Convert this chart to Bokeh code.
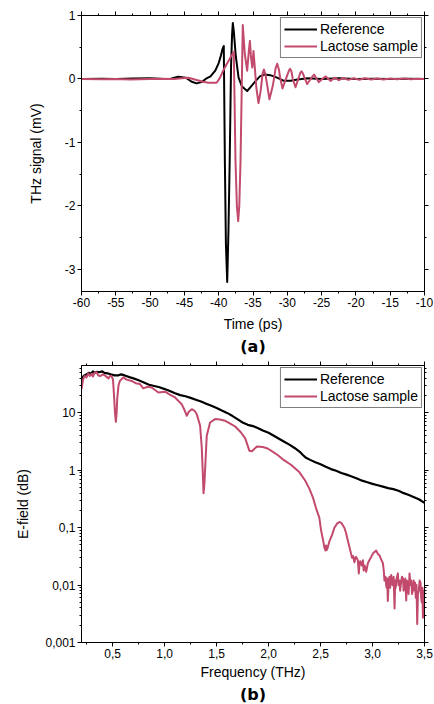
from bokeh.plotting import figure
from bokeh.layouts import column
from bokeh.models import (FixedTicker, LinearAxis, LogAxis, Legend, LegendItem,
                          Title, CustomJSTickFormatter)
from bokeh.embed import file_html
from bokeh.resources import INLINE

# ---------------- data: (a) time domain ----------------
ref_t = [-60, -57, -55, -52.5, -50, -48, -47, -45.9, -44.8, -44.0, -43.24, -42.5, -41.9,
         -41.2, -40.5, -40.0, -39.7, -39.45, -39.26, -39.1, -38.95, -38.76, -38.58, -38.4,
         -38.2, -38.05, -37.94, -37.8, -37.5, -37.1, -36.6, -35.85, -35.3, -34.6, -34.0,
         -33.3, -32.5, -31.5, -30.5, -29.5, -28.5, -27.0, -25.0, -22.5, -20.0, -17.5,
         -15.0, -12.5, -10.0]
ref_v = [0.0, 0.005, 0.0, 0.008, 0.01, 0.0, 0.005, 0.035, 0.02, -0.04, -0.07, -0.05, 0.0,
         0.04, 0.13, 0.25, 0.36, 0.47, 0.52, -1.3, -2.6, -3.2, -2.4, -1.3,
         0.2, 0.7, 0.88, 0.75, 0.35, 0.02, -0.12, -0.19, -0.12, -0.03, 0.04,
         0.07, 0.06, 0.02, -0.03, -0.03, -0.01, 0.01, 0.0, 0.01, 0.0, 0.005,
         0.0, 0.004, 0.0]

lac_t = [-60, -57, -55, -52.9, -50, -48.5, -46.5, -45.4, -44.4, -43.1, -42.3, -41.5, -40.3,
         -39.8, -39.26, -38.8, -38.28, -37.8, -37.55, -37.35, -37.16, -37.0, -36.82, -36.65,
         -36.49, -36.2, -35.85, -35.6, -35.45, -35.3, -35.1, -34.93, -34.75, -34.5, -34.2,
         -33.9, -33.6, -33.42, -33.2, -33.0, -32.6, -32.1, -31.7, -31.47, -31.2, -31.1,
         -30.7, -30.2, -29.8, -29.6, -29.4, -29.2, -28.8, -28.4, -28.1, -27.93, -27.7,
         -27.5, -27.1, -26.6, -26.1, -25.7, -25.4, -24.9, -24.4, -24.0, -23.7, -23.1,
         -22.5, -21.8, -21.1, -20.3, -19.5, -18.7, -17.8, -16.9, -16.0, -15.0, -14.0,
         -13.0, -12.0, -11.0, -10.0]
lac_v = [0.0, -0.005, 0.0, -0.01, 0.0, 0.005, 0.0, 0.01, 0.02, -0.02, -0.045, -0.06, -0.06,
         0.02, 0.15, 0.24, 0.34, 0.43, -1.3, -2.0, -2.24, -2.0, -1.3, -0.2,
         0.85, 0.4, 0.13, 0.45, 0.6, 0.35, 0.18, 0.44, 0.2, -0.15, -0.38,
         -0.2, 0.08, 0.15, 0.08, -0.05, -0.32, -0.1, 0.17, 0.24, 0.14, 0.05,
         -0.15, 0.0, 0.12, 0.16, 0.12, 0.0, -0.13, 0.0, 0.1, 0.12, 0.08,
         0.02, -0.08, 0.0, 0.07, 0.0, -0.05, 0.0, 0.04, 0.0, -0.03, 0.02,
         -0.02, 0.015, -0.015, 0.012, -0.012, 0.01, -0.01, 0.008, -0.008, 0.008, -0.005,
         0.006, -0.004, 0.004, 0.0]

t_ticks = [-60, -55, -50, -45, -40, -35, -30, -25, -20, -15, -10]
t_minor = [-57.5, -52.5, -47.5, -42.5, -37.5, -32.5, -27.5, -22.5, -17.5, -12.5]
v_ticks = [-3, -2, -1, 0, 1]
v_minor = [-2.5, -1.5, -0.5, 0.5]

# ---------------- data: (b) spectra ----------------
ref_f = [0.20, 0.22, 0.25, 0.27, 0.29, 0.31, 0.33, 0.35, 0.37, 0.40, 0.42, 0.45, 0.48,
         0.50, 0.52, 0.55, 0.58, 0.60, 0.63, 0.66, 0.70, 0.75, 0.80, 0.85, 0.90, 0.95,
         1.00, 1.05, 1.10, 1.15, 1.20, 1.25, 1.30, 1.35, 1.40, 1.45, 1.50, 1.55, 1.60,
         1.65, 1.70, 1.75, 1.80, 1.85, 1.90, 1.95, 2.00, 2.05, 2.10, 2.15, 2.20, 2.25,
         2.30, 2.33, 2.36, 2.40, 2.45, 2.50, 2.55, 2.60, 2.65, 2.70, 2.75, 2.80, 2.85,
         2.90, 2.95, 3.00, 3.05, 3.10, 3.15, 3.20, 3.25, 3.30, 3.35, 3.40, 3.45, 3.50]
ref_e = [38, 44, 47, 50, 48, 53, 50, 52, 51, 53, 50, 49, 47,
         46, 45, 45, 47, 46, 44, 42, 40, 37, 34, 31, 29.5, 28,
         26, 24, 22, 20.4, 19.5, 18.3, 17.0, 15.8, 14.5, 13.3, 12.2, 11.0, 10.0,
         8.9, 7.8, 6.8, 6.2, 5.9, 5.4, 4.9, 4.5, 4.0, 3.55, 3.15, 2.8, 2.45,
         2.1, 1.85, 1.65, 1.52, 1.38, 1.27, 1.15, 1.05, 0.98, 0.90, 0.84, 0.78, 0.72,
         0.66, 0.62, 0.58, 0.55, 0.52, 0.49, 0.47, 0.44, 0.40, 0.37, 0.34, 0.31, 0.27]

lac_f = [0.200, 0.215, 0.230, 0.248, 0.265, 0.280, 0.296, 0.310, 0.325, 0.345, 0.360,
         0.383, 0.405, 0.425, 0.445, 0.460, 0.475, 0.489, 0.503, 0.513, 0.522, 0.531,
         0.538, 0.544, 0.556, 0.569, 0.602, 0.634, 0.682, 0.721, 0.762, 0.795, 0.836,
         0.875, 0.940, 1.003, 1.058, 1.100, 1.164, 1.193, 1.213, 1.232, 1.261, 1.290,
         1.309, 1.341, 1.357, 1.366, 1.374, 1.383, 1.391, 1.405, 1.437, 1.485, 1.531,
         1.582, 1.627, 1.678, 1.733, 1.775, 1.815, 1.839, 1.888, 1.945, 1.991, 2.042,
         2.087, 2.148, 2.215, 2.295, 2.350, 2.392, 2.428, 2.456, 2.488, 2.505, 2.521,
         2.537, 2.548, 2.553, 2.560, 2.567, 2.585, 2.611, 2.633, 2.659, 2.681, 2.702,
         2.729, 2.746, 2.762, 2.779, 2.794, 2.803, 2.813, 2.826, 2.835, 2.842, 2.859,
         2.868, 2.875, 2.881, 2.895, 2.907, 2.915, 2.924, 2.939, 2.955, 2.973, 2.987,
         3.006, 3.021, 3.035, 3.051, 3.067, 3.083, 3.100, 3.108, 3.115, 3.125, 3.131,
         3.136, 3.142, 3.147, 3.155, 3.163, 3.170, 3.180, 3.187, 3.194, 3.203, 3.212,
         3.218, 3.223, 3.232, 3.244, 3.250, 3.257, 3.266, 3.276, 3.284, 3.293, 3.299,
         3.305, 3.315, 3.324, 3.331, 3.339, 3.347, 3.356, 3.364, 3.373, 3.380, 3.387,
         3.396, 3.404, 3.410, 3.416, 3.423, 3.430, 3.437, 3.445, 3.453, 3.462, 3.468,
         3.474, 3.480, 3.485, 3.492, 3.500]
lac_e = [26, 38, 44, 41.5, 49, 44, 48, 43, 50, 51, 45,
         44, 47, 45, 42, 40, 44, 44, 38, 20, 10, 7.0,
         10, 18, 30, 36, 41.6, 38, 36, 33, 31.8, 26.7, 28.5,
         27.8, 22.7, 23.4, 20.5, 18.6, 14.2, 11.0, 8.9, 10.5, 11.6, 10.8,
         9.5, 6.0, 2.5, 1.0, 0.40, 0.6, 1.2, 4.0, 6.8, 7.8, 7.7,
         7.3, 6.6, 5.8, 4.6, 3.6, 2.2, 2.15, 2.6, 2.55, 2.4, 2.1,
         1.85, 1.5, 1.25, 0.93, 0.67, 0.48, 0.33, 0.22, 0.15, 0.09, 0.065,
         0.045, 0.04, 0.049, 0.041, 0.044, 0.058, 0.075, 0.10, 0.118, 0.126, 0.12,
         0.10, 0.08, 0.06, 0.045, 0.035, 0.030, 0.032, 0.025, 0.030, 0.031, 0.027,
         0.016, 0.024, 0.026, 0.022, 0.027, 0.018, 0.022, 0.017, 0.024, 0.028, 0.031,
         0.036, 0.038, 0.040, 0.035, 0.033, 0.028, 0.024, 0.018, 0.012, 0.014, 0.010,
         0.009, 0.013, 0.0053, 0.011, 0.014, 0.009, 0.015, 0.011, 0.010, 0.014, 0.0039,
         0.012, 0.009, 0.013, 0.016, 0.010, 0.012, 0.008, 0.012, 0.014, 0.013, 0.008,
         0.009, 0.013, 0.0054, 0.012, 0.011, 0.007, 0.016, 0.010, 0.012, 0.007, 0.008,
         0.012, 0.0081, 0.011, 0.006, 0.010, 0.0021, 0.007, 0.008, 0.012, 0.011, 0.006,
         0.005, 0.009, 0.0027, 0.008, 0.006]

f_ticks = [0.5, 1.0, 1.5, 2.0, 2.5, 3.0, 3.5]
f_minor = [0.25, 0.75, 1.25, 1.75, 2.25, 2.75, 3.25]
e_ticks = [0.001, 0.01, 0.1, 1, 10]
e_minor = [m * d for d in [0.001, 0.01, 0.1, 1] for m in range(2, 10)] + [20, 30, 40, 50, 60]

FONT = "Liberation Sans"
BLACK = "#000000"
PINK = "#C24A6C"
BLANK = CustomJSTickFormatter(code="return '';")


def style_axis(ax, ticks, minor, fmt, label=None, standoff=5):
    ax.ticker = FixedTicker(ticks=ticks, minor_ticks=minor)
    ax.formatter = fmt
    ax.axis_line_color = BLACK
    ax.major_tick_line_color = BLACK
    ax.minor_tick_line_color = BLACK
    ax.major_tick_in = 0
    ax.major_tick_out = 4
    ax.minor_tick_in = 0
    ax.minor_tick_out = 2
    ax.major_label_text_font = FONT
    ax.major_label_text_font_size = "12px"
    ax.major_label_text_color = BLACK
    ax.major_label_standoff = 2
    if label is not None:
        ax.axis_label = label
        ax.axis_label_text_font = FONT
        ax.axis_label_text_font_size = "14px"
        ax.axis_label_text_font_style = "normal"
        ax.axis_label_text_color = BLACK
        ax.axis_label_standoff = standoff


def mirror(ax, ticks, minor):
    style_axis(ax, ticks, minor, BLANK)
    ax.major_label_text_font_size = "1px"
    ax.major_label_standoff = 0


def add_legend(p, r1, r2):
    leg = Legend(items=[LegendItem(label="Reference", renderers=[r1]),
                        LegendItem(label="Lactose sample", renderers=[r2])],
                 location="top_right")
    leg.label_text_font = FONT
    leg.label_text_font_size = "14px"
    leg.label_text_color = BLACK
    leg.glyph_width = 33
    leg.glyph_height = 16
    leg.label_height = 16
    leg.label_standoff = 3
    leg.padding = 3
    leg.spacing = 1
    leg.margin = 2
    leg.border_line_color = BLACK
    leg.border_line_width = 1
    leg.background_fill_alpha = 1
    p.add_layout(leg)


def add_tag(p, txt):
    t = Title(text=txt, align="center", text_font="DejaVu Sans", text_font_style="bold",
              text_font_size="16px", text_color=BLACK, standoff=0)
    p.add_layout(t, "below")


# ---------------- figure (a) ----------------
p1 = figure(width=434, height=355, x_range=(-60, -10), y_range=(-3.35, 1.0),
            output_backend="svg", toolbar_location=None,
            min_border_left=81, min_border_right=10, min_border_top=15, min_border_bottom=64)
p1.grid.visible = False
p1.outline_line_color = BLACK
r1 = p1.line(ref_t, ref_v, line_color=BLACK, line_width=2, line_join="round")
r2 = p1.line(lac_t, lac_v, line_color=PINK, line_width=2, line_join="round")
fmt_a = CustomJSTickFormatter(code="return String(tick);")
style_axis(p1.xaxis[0], t_ticks, t_minor, fmt_a, "Time (ps)", 6)
style_axis(p1.yaxis[0], v_ticks, v_minor, fmt_a, "THz signal (mV)", 18)
ta = LinearAxis()
mirror(ta, t_ticks, t_minor)
p1.add_layout(ta, "above")
ra = LinearAxis()
mirror(ra, v_ticks, v_minor)
p1.add_layout(ra, "right")
add_legend(p1, r1, r2)
add_tag(p1, "(a)")

# ---------------- figure (b) ----------------
p2 = figure(width=434, height=349, x_range=(0.2, 3.5), y_range=(0.001, 67),
            y_axis_type="log", output_backend="svg", toolbar_location=None,
            min_border_left=81, min_border_right=10, min_border_top=10, min_border_bottom=62)
p2.grid.visible = False
p2.outline_line_color = BLACK
s1 = p2.line(ref_f, ref_e, line_color=BLACK, line_width=2.2, line_join="round")
s2 = p2.line(lac_f, lac_e, line_color=PINK, line_width=2, line_join="round")
fmt_fx = CustomJSTickFormatter(code="return tick.toFixed(1).replace('.', ',');")
fmt_fy = CustomJSTickFormatter(code="return String(tick).replace('.', ',');")
style_axis(p2.xaxis[0], f_ticks, f_minor, fmt_fx, "Frequency (THz)", 3)
style_axis(p2.yaxis[0], e_ticks, e_minor, fmt_fy, "E-field (dB)", 11)
tb = LinearAxis()
mirror(tb, f_ticks, f_minor)
p2.add_layout(tb, "above")
rb = LogAxis()
mirror(rb, e_ticks, e_minor)
p2.add_layout(rb, "right")
add_legend(p2, s1, s2)
add_tag(p2, "(b)")

layout = column(p1, p2, spacing=0)
open("out.html", "w").write(file_html(layout, INLINE))
